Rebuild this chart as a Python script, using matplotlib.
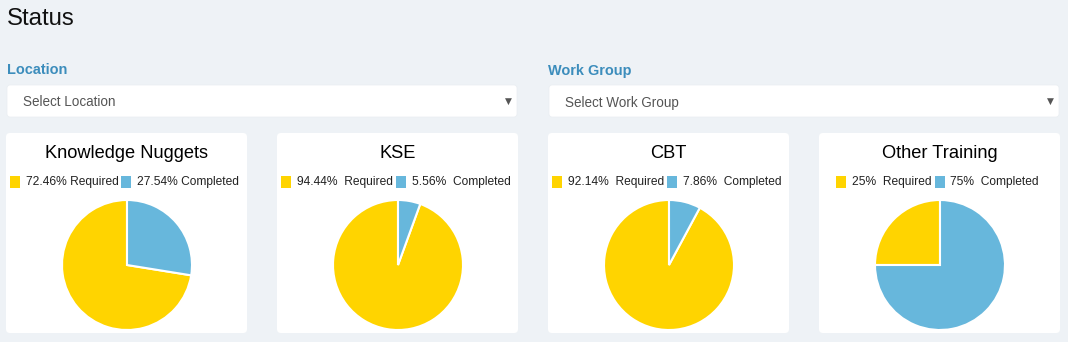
import matplotlib.pyplot as plt
from matplotlib.patches import FancyBboxPatch, Rectangle

W, H = 1068, 342

# training status per category (percent)
categories = ['Knowledge Nuggets', 'KSE', 'CBT', 'Other Training']
required = [72.46, 94.44, 92.14, 25]
completed = [27.54, 5.56, 7.86, 75]
required_labels = ['72.46% Required', '94.44%  Required', '92.14%  Required', '25%  Required']
completed_labels = ['27.54% Completed', '5.56%  Completed', '7.86%  Completed', '75%  Completed']
colors = ['#ffd400', '#67b7dc']

filters = ['Location', 'Work Group']
placeholders = ['Select Location', 'Select Work Group']

plt.rcParams['font.family'] = ['Liberation Sans', 'DejaVu Sans']


def pt(pixels):
    # font sizes are given in px, figure is 100 dpi
    return pixels * 0.72


fig = plt.figure(figsize=(W / 100, H / 100), dpi=100, facecolor='#eef2f6')
bg = fig.add_axes([0, 0, 1, 1])
bg.set_xlim(0, W)
bg.set_ylim(H, 0)
bg.axis('off')

bg.text(7, 25, 'Status', fontsize=pt(24), ha='left', va='baseline', color='#111111')

# filter dropdowns
for i, (label, holder) in enumerate(zip(filters, placeholders)):
    x0 = 7 + i * 542
    bg.text(x0 - i, 74.5, label, fontsize=pt(14.5), fontweight='bold', color='#3c8dbc',
            ha='left', va='baseline')
    bg.add_patch(FancyBboxPatch((x0, 85), 510, 32, boxstyle='round,pad=0,rounding_size=3',
                                facecolor='white', edgecolor='#e9edf1', linewidth=0.5))
    bg.text(x0 + 16, 106.5, holder, fontsize=pt(13.5), color='#555555',
            ha='left', va='baseline')
    bg.text(x0 + 501, 101, '\u25bc', fontsize=6.5, color='#555555', ha='center', va='center',
            family='DejaVu Sans')

# cards with pies
card_x = [6, 277, 548, 819]
card_w = 241
renderer = fig.canvas.get_renderer()

for i, name in enumerate(categories):
    x0 = card_x[i]
    cx = x0 + card_w / 2
    bg.add_patch(FancyBboxPatch((x0, 133), card_w, 200, boxstyle='round,pad=0,rounding_size=4',
                                facecolor='white', edgecolor='none'))
    bg.text(cx, 158.5, name, fontsize=pt(18.3), color='#000000', ha='center', va='baseline')

    # legend row: square, text, square, text
    t1 = bg.text(0, 185, required_labels[i], fontsize=pt(12), color='#222222',
                 ha='left', va='baseline')
    t2 = bg.text(0, 185, completed_labels[i], fontsize=pt(12), color='#222222',
                 ha='left', va='baseline')
    w1 = t1.get_window_extent(renderer).width
    w2 = t2.get_window_extent(renderer).width
    total = 10 + 6 + w1 + 3 + 10 + 6 + w2
    lx = cx - 2 - total / 2
    bg.add_patch(Rectangle((lx, 176), 10, 11.5, facecolor=colors[0], edgecolor='none'))
    t1.set_x(lx + 16)
    lx2 = lx + 16 + w1 + 3
    bg.add_patch(Rectangle((lx2, 176), 10, 11.5, facecolor=colors[1], edgecolor='none'))
    t2.set_x(lx2 + 16)

    r = 65
    pcx, pcy = cx + 0.5, 265
    ax = fig.add_axes([(pcx - r) / W, 1 - (pcy + r) / H, 2 * r / W, 2 * r / H])
    ax.pie([required[i], completed[i]], colors=colors, startangle=90,
           wedgeprops=dict(edgecolor='white', linewidth=1.5))
    ax.set_xlim(-1, 1)
    ax.set_ylim(-1, 1)
    ax.axis('off')

fig.savefig('out.png', dpi=100, facecolor=fig.get_facecolor())
